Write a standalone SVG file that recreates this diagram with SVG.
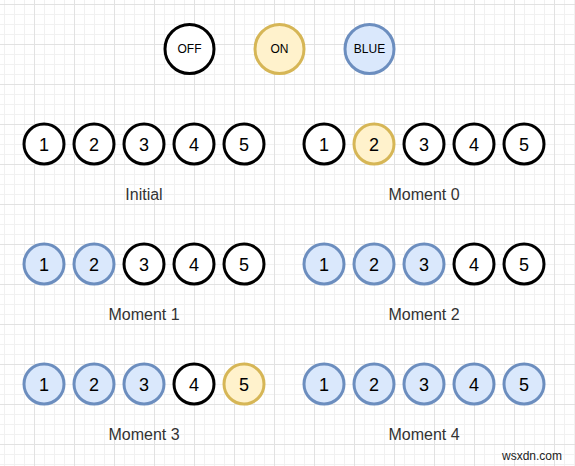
<svg xmlns="http://www.w3.org/2000/svg" width="575" height="466" viewBox="0 0 575 466">
<defs>
<pattern id="minor" x="4" y="4" width="10" height="10" patternUnits="userSpaceOnUse">
<path d="M0 0.5H10M0.5 0V10" fill="none" stroke="#f1f1f1" stroke-width="1"/>
</pattern>
<pattern id="major" x="34" y="4" width="40" height="40" patternUnits="userSpaceOnUse">
<path d="M0 0.5H40M0.5 0V40" fill="none" stroke="#e2e2e2" stroke-width="1"/>
</pattern>
</defs>
<style>
.off{fill:#ffffff;stroke:#000000;stroke-width:3}
.on{fill:#fff2cc;stroke:#d6b656;stroke-width:3}
.blue{fill:#dae8fc;stroke:#6c8ebf;stroke-width:3}
.num{font-family:"Liberation Sans",Arial,sans-serif;font-size:18px;fill:#000;text-anchor:middle}
.leg{font-family:"Liberation Sans",Arial,sans-serif;font-size:12px;fill:#000;text-anchor:middle}
.lbl{font-family:"Liberation Sans",Arial,sans-serif;font-size:16px;fill:#333;text-anchor:middle}
</style>
<rect width="575" height="466" fill="#ffffff"/>
<rect width="575" height="466" fill="url(#minor)"/>
<rect width="575" height="466" fill="url(#major)"/>

<g id="legend">
<g id="legend-off"><circle class="off" cx="189.5" cy="49" r="24.5"/><text class="leg" x="189.5" y="53.3">OFF</text></g>
<g id="legend-on"><circle class="on" cx="279.5" cy="49" r="24.5"/><text class="leg" x="279.5" y="53.3">ON</text></g>
<g id="legend-blue"><circle class="blue" cx="369.5" cy="49" r="24.5"/><text class="leg" x="369.5" y="53.3">BLUE</text></g>
</g>

<g id="initial">
<g id="i1"><circle class="off" cx="44" cy="144" r="20"/><text class="num" x="44" y="150.5">1</text></g>
<g id="i2"><circle class="off" cx="94" cy="144" r="20"/><text class="num" x="94" y="150.5">2</text></g>
<g id="i3"><circle class="off" cx="144" cy="144" r="20"/><text class="num" x="144" y="150.5">3</text></g>
<g id="i4"><circle class="off" cx="194" cy="144" r="20"/><text class="num" x="194" y="150.5">4</text></g>
<g id="i5"><circle class="off" cx="244" cy="144" r="20"/><text class="num" x="244" y="150.5">5</text></g>
<text class="lbl" x="144" y="200">Initial</text>
</g>

<g id="moment0">
<g id="m0-1"><circle class="off" cx="324" cy="144" r="20"/><text class="num" x="324" y="150.5">1</text></g>
<g id="m0-2"><circle class="on" cx="374" cy="144" r="20"/><text class="num" x="374" y="150.5">2</text></g>
<g id="m0-3"><circle class="off" cx="424" cy="144" r="20"/><text class="num" x="424" y="150.5">3</text></g>
<g id="m0-4"><circle class="off" cx="474" cy="144" r="20"/><text class="num" x="474" y="150.5">4</text></g>
<g id="m0-5"><circle class="off" cx="524" cy="144" r="20"/><text class="num" x="524" y="150.5">5</text></g>
<text class="lbl" x="424" y="200">Moment 0</text>
</g>

<g id="moment1">
<g id="m1-1"><circle class="blue" cx="44" cy="264" r="20"/><text class="num" x="44" y="270.5">1</text></g>
<g id="m1-2"><circle class="blue" cx="94" cy="264" r="20"/><text class="num" x="94" y="270.5">2</text></g>
<g id="m1-3"><circle class="off" cx="144" cy="264" r="20"/><text class="num" x="144" y="270.5">3</text></g>
<g id="m1-4"><circle class="off" cx="194" cy="264" r="20"/><text class="num" x="194" y="270.5">4</text></g>
<g id="m1-5"><circle class="off" cx="244" cy="264" r="20"/><text class="num" x="244" y="270.5">5</text></g>
<text class="lbl" x="144" y="320">Moment 1</text>
</g>

<g id="moment2">
<g id="m2-1"><circle class="blue" cx="324" cy="264" r="20"/><text class="num" x="324" y="270.5">1</text></g>
<g id="m2-2"><circle class="blue" cx="374" cy="264" r="20"/><text class="num" x="374" y="270.5">2</text></g>
<g id="m2-3"><circle class="blue" cx="424" cy="264" r="20"/><text class="num" x="424" y="270.5">3</text></g>
<g id="m2-4"><circle class="off" cx="474" cy="264" r="20"/><text class="num" x="474" y="270.5">4</text></g>
<g id="m2-5"><circle class="off" cx="524" cy="264" r="20"/><text class="num" x="524" y="270.5">5</text></g>
<text class="lbl" x="424" y="320">Moment 2</text>
</g>

<g id="moment3">
<g id="m3-1"><circle class="blue" cx="44" cy="384" r="20"/><text class="num" x="44" y="390.5">1</text></g>
<g id="m3-2"><circle class="blue" cx="94" cy="384" r="20"/><text class="num" x="94" y="390.5">2</text></g>
<g id="m3-3"><circle class="blue" cx="144" cy="384" r="20"/><text class="num" x="144" y="390.5">3</text></g>
<g id="m3-4"><circle class="off" cx="194" cy="384" r="20"/><text class="num" x="194" y="390.5">4</text></g>
<g id="m3-5"><circle class="on" cx="244" cy="384" r="20"/><text class="num" x="244" y="390.5">5</text></g>
<text class="lbl" x="144" y="440">Moment 3</text>
</g>

<g id="moment4">
<g id="m4-1"><circle class="blue" cx="324" cy="384" r="20"/><text class="num" x="324" y="390.5">1</text></g>
<g id="m4-2"><circle class="blue" cx="374" cy="384" r="20"/><text class="num" x="374" y="390.5">2</text></g>
<g id="m4-3"><circle class="blue" cx="424" cy="384" r="20"/><text class="num" x="424" y="390.5">3</text></g>
<g id="m4-4"><circle class="blue" cx="474" cy="384" r="20"/><text class="num" x="474" y="390.5">4</text></g>
<g id="m4-5"><circle class="blue" cx="524" cy="384" r="20"/><text class="num" x="524" y="390.5">5</text></g>
<text class="lbl" x="424" y="440">Moment 4</text>
</g>

<g id="connectors"/>

<text x="562" y="460" font-family="'Liberation Sans',Arial,sans-serif" font-size="12" fill="#222" text-anchor="end">wsxdn.com</text>
</svg>
